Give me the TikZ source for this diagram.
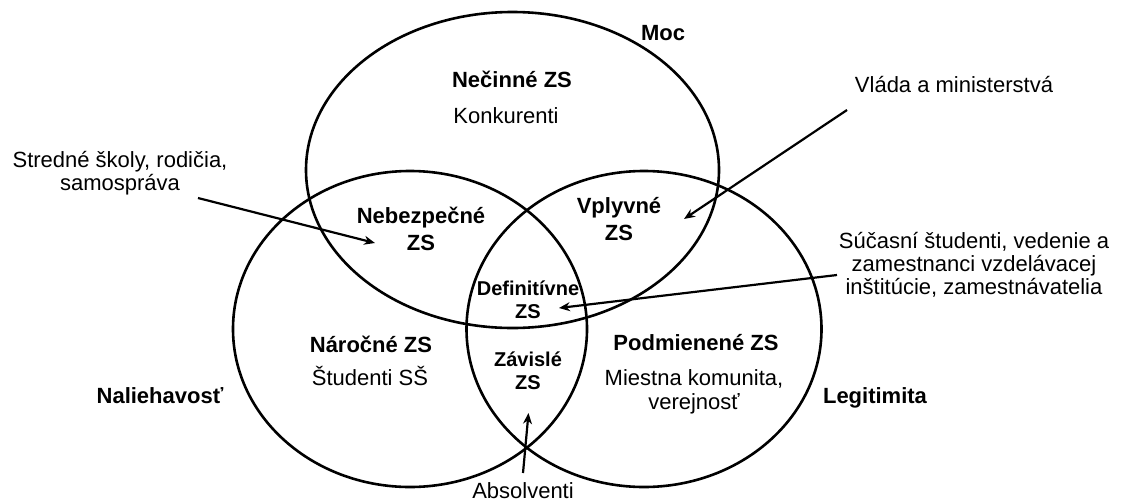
\documentclass[tikz,border=0pt]{standalone}
\usepackage{fontspec}
\setmainfont{Liberation Sans}
\usepackage{tikz}
\usetikzlibrary{arrows.meta,positioning,shapes.geometric}
\tikzset{
    %Define standard arrow tip
    >={Stealth[length=11pt,width=9pt]},
    %Define style for the three sets
    zona/.style={
           ellipse,
           draw=black,
           line width=2.6pt,
           inner sep=0pt},
    %Define style for bold names
    nazov/.style={
           font=\bfseries\fontsize{22}{27}\selectfont,
           anchor=base,
           align=center,
           inner sep=0pt},
    malynazov/.style={
           font=\bfseries\fontsize{20}{23}\selectfont,
           anchor=base,
           align=center,
           inner sep=0pt},
    %Define style for plain text
    popis/.style={
           font=\fontsize{22}{23}\selectfont,
           anchor=base,
           align=center,
           inner sep=0pt},
    % Define arrow style
    pil/.style={
           ->,
           line width=2.2pt}
}

\begin{document}
\begin{tikzpicture}[x=1pt,y=-1pt]
\useasboundingbox (0,0) rectangle (1127,501);
% sets
\node[zona, minimum width=413pt, minimum height=316pt] (moc) at (512.5,170) {};
\node[zona, minimum width=354pt, minimum height=316pt] (nal) at (410,329) {};
\node[zona, minimum width=355pt, minimum height=316pt] (leg) at (644,329) {};
\node[nazov] (mocT) at (663,40) {Moc};
\node[nazov] (nalT) at (160,403) {Naliehavosť};
\node[nazov] (legT) at (875,403) {Legitimita};
% groups (base = last line)
\node[nazov] (necinne) at (512,87) {Nečinné ZS};
\node[popis] (konkurenti) at (506,123) {Konkurenti};
\node[nazov] (nebezpecne) at (421,250) {Nebezpečné\\ZS};
\node[nazov] (vplyvne) at (619,240) {Vplyvné\\ZS};
\node[malynazov] (definitivne) at (528,318) {Definitívne\\ZS};
\node[malynazov] (zavisle) at (528,389) {Závislé\\ZS};
\node[nazov] (narocne) at (371,352) {Náročné ZS};
\node[popis] (studenti) at (370,385) {Študenti SŠ};
\node[nazov] (podmienene) at (696,350) {Podmienené ZS};
\node[popis, font=\fontsize{22}{24}\selectfont] (komunita) at (694,409) {Miestna komunita,\\verejnosť};
% outside
\node[popis] (stredne) at (120,190) {Stredné školy, rodičia,\\samospráva};
\node[popis] (vlada) at (954,92) {Vláda a ministerstvá};
\node[popis] (sucasni) at (974,294) {Súčasní študenti, vedenie a\\zamestnanci vzdelávacej\\inštitúcie, zamestnávatelia};
\node[popis] (absolventi) at (523,498) {Absolventi};
\coordinate (s1) at (198,198);
\coordinate (s2) at (375,243);
\coordinate (v1) at (847,110);
\coordinate (v2) at (684,219);
\coordinate (u1) at (837,275);
\coordinate (u2) at (559,308);
\coordinate (a1) at (523,473);
\coordinate (a2) at (528.5,413);
\draw[pil] (s1) -- (s2);
\draw[pil] (v1) -- (v2);
\draw[pil] (u1) -- (u2);
\draw[pil] (a1) -- (a2);
\end{tikzpicture}
\end{document}
